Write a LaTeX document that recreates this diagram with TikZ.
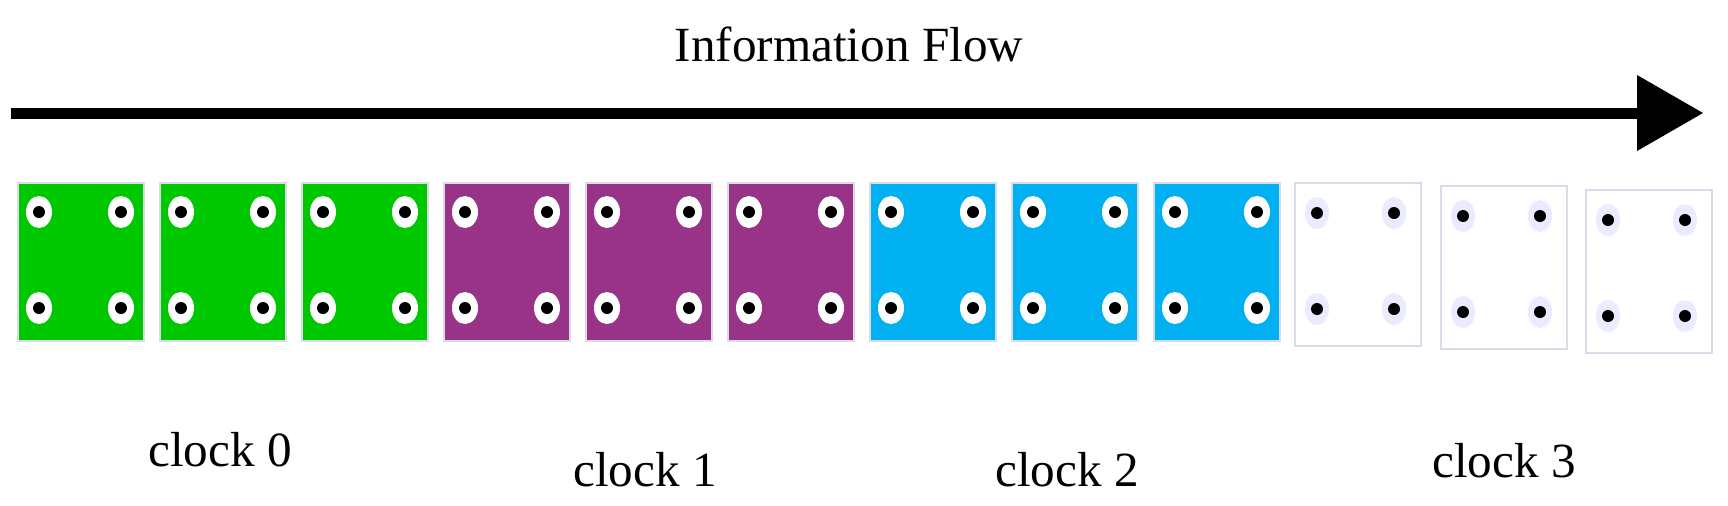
\documentclass[tikz,border=0pt]{standalone}
\usepackage{fontspec}
\setmainfont{Liberation Serif}
\definecolor{cg}{HTML}{00C800}
\definecolor{cp}{HTML}{993388}
\definecolor{cb}{HTML}{00B0F0}
\definecolor{edge}{HTML}{D8DCE8}
\begin{document}
\begin{tikzpicture}[x=0.02cm,y=-0.02cm,
  cell/.style={draw=edge,line width=1.2pt},
  halo/.style={fill=white,draw=none},
  dot/.style={fill=black},
  lbl/.style={font=\fontsize{28}{32}\selectfont,inner sep=0pt}]
\useasboundingbox (0,0) rectangle (1728,505);
% arrow
\coordinate (as) at (11,113);
\coordinate (ae) at (1703,113);
\draw[line width=11*0.02cm] (as) -- (1640,113);
\fill (1637,75) -- (ae) -- (1637,151) -- cycle;
\node[lbl] (title) at (849,44) {Information Flow};
% colored boxes
\foreach \i/\c in {0/cg,1/cg,2/cg,3/cp,4/cp,5/cp,6/cb,7/cb,8/cb}{
  \pgfmathsetmacro{\xx}{17+142*\i}
  \node[cell,fill=\c,minimum width=126*0.02cm,minimum height=158*0.02cm,inner sep=0pt,anchor=north west] (b\i) at (\xx,182) {};
  \foreach \dx in {22,104}{\foreach \dy in {30,126}{
    \fill[halo] (\xx+\dx,182+\dy) ellipse [x radius=13,y radius=16];
    \fill[dot] (\xx+\dx,182+\dy) circle [radius=6];
  }}
}
% white boxes
\foreach \i/\xx/\yy in {9/1294/182,10/1440/185,11/1585/189}{
  \node[cell,fill=white,minimum width=126*0.02cm,minimum height=163*0.02cm,inner sep=0pt,anchor=north west] (b\i) at (\xx,\yy) {};
  \foreach \dx in {23,100}{\foreach \dy in {31,127}{
    \fill[blue!8] (\xx+\dx,\yy+\dy) ellipse [x radius=12,y radius=16];
    \fill[dot] (\xx+\dx,\yy+\dy) circle [radius=6];
  }}
}
\node[lbl] (c0) at (220,450) {clock 0};
\node[lbl] (c1) at (645,470) {clock 1};
\node[lbl] (c2) at (1067,470) {clock 2};
\node[lbl] (c3) at (1504,461) {clock 3};
\end{tikzpicture}
\end{document}
